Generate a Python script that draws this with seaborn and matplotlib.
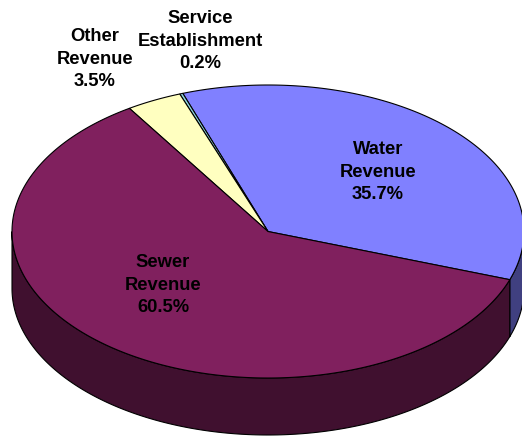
import numpy as np
import matplotlib
matplotlib.use("Agg")
import matplotlib.pyplot as plt
from matplotlib.patches import Polygon
import seaborn as sns

# Revenue breakdown
categories = ["Water\nRevenue", "Service\nEstablishment", "Other\nRevenue", "Sewer\nRevenue"]
shares = [35.7, 0.2, 3.5, 60.5]
top_colors = ["#8080FF", "#8FD6E0", "#FFFFC0", "#80205E"]
side_colors = ["#404080", "#47707A", "#80805F", "#40102F"]

sns.set_theme(style="white")
plt.rcParams["font.family"] = ["Liberation Sans", "DejaVu Sans"]

W, H = 522, 436
fig = plt.figure(figsize=(W / 100, H / 100), dpi=100)
ax = fig.add_axes([0, 0, 1, 1])
ax.set_xlim(0, W)
ax.set_ylim(H, 0)
ax.axis("off")

# Tilted disc geometry (pixel space)
cx, cy = 268.0, 231.5
a, b = 256.0, 146.5
depth = 57.0
start = -19.2  # degrees, where the first wedge begins (counter-clockwise)


def rim(t):
    t = np.radians(t)
    return cx + a * np.cos(t), cy - b * np.sin(t)


fracs = np.array(shares) / np.sum(shares)
edges = start + np.concatenate([[0], np.cumsum(fracs) * 360.0])

# Side walls: only the front half (angles in 180..360) is visible
for i in range(len(shares)):
    t1, t2 = edges[i], edges[i + 1]
    for off in (-360, 0, 360):
        lo, hi = max(t1 + off, 180), min(t2 + off, 360)
        if hi > lo:
            ts = np.linspace(lo, hi, 200)
            xs, ys = rim(ts)
            pts = np.column_stack([np.r_[xs, xs[::-1]], np.r_[ys, ys[::-1] + depth]])
            ax.add_patch(Polygon(pts, closed=True, facecolor=side_colors[i],
                                 edgecolor="black", linewidth=0.8, zorder=1))

# Top faces
for i in range(len(shares)):
    ts = np.linspace(edges[i], edges[i + 1], max(4, int((edges[i + 1] - edges[i]) * 3)))
    xs, ys = rim(ts)
    pts = np.column_stack([np.r_[cx, xs], np.r_[cy, ys]])
    ax.add_patch(Polygon(pts, closed=True, facecolor=top_colors[i],
                         edgecolor="black", linewidth=0.8, zorder=2))

# Data labels
label_pos = [(378, 172), (200, 41), (95, 59), (163, 285)]
for (x, y), name, v in zip(label_pos, categories, shares):
    ax.text(x, y, f"{name}\n{v:.1f}%", ha="center", va="center",
            fontsize=13.2, fontweight="bold", color="black",
            linespacing=1.42, zorder=5)

fig.savefig("out.png", dpi=100)
